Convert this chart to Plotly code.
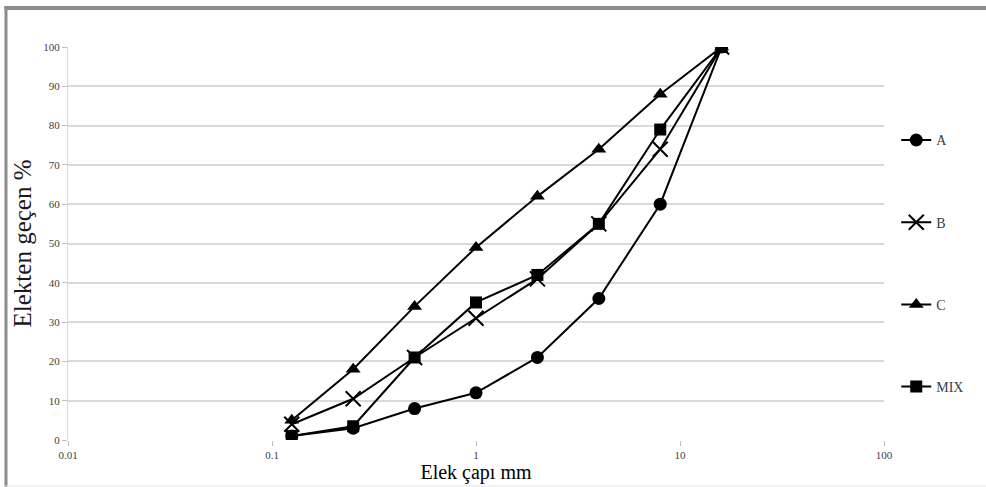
import plotly.graph_objects as go

# Sieve sizes (mm) and percent passing for each aggregate
sieve_mm = [0.125, 0.25, 0.5, 1, 2, 4, 8, 16]
pass_a = [1, 3, 8, 12, 21, 36, 60, 100]
pass_b = [4, 10.5, 21, 31, 41, 55, 74, 100]
pass_c = [5, 18, 34, 49, 62, 74, 88, 100]
pass_mix = [1, 3.5, 21, 35, 42, 55, 79, 100]

series = [
    ("A", pass_a, dict(symbol="circle", size=13)),
    ("B", pass_b, dict(symbol="x-thin", size=15, line=dict(width=2, color="black"))),
    ("C", pass_c, dict(symbol="triangle-up", size=13)),
    ("MIX", pass_mix, dict(symbol="square", size=12)),
]

x_tick_vals = [0.01, 0.1, 1, 10, 100]
x_tick_text = ["0.01", "0.1", "1", "10", "100"]
y_tick_vals = list(range(0, 101, 10))

fig = go.Figure()
for i, (name, vals, mk) in enumerate(series):
    fig.add_trace(go.Scatter(
        x=sieve_mm, y=vals, name=name, mode="lines+markers",
        line=dict(color="black", width=2),
        marker=dict(color="black", **mk),
        legendgroup=f"g{i}",
    ))

serif = "Liberation Serif, Times New Roman, serif"

# Frame around the chart: heavy top and left edges, faint bottom edge
frame = [
    dict(type="line", xref="paper", yref="paper", x0=-0.078, x1=1.13, y0=1.0992, y1=1.0992,
         line=dict(color="#8c8c8c", width=4), layer="below"),
    dict(type="line", xref="paper", yref="paper", x0=-0.0760, x1=-0.0760, y0=1.104, y1=-0.13,
         line=dict(color="#8c8c8c", width=3), layer="below"),
    dict(type="line", xref="paper", yref="paper", x0=-0.078, x1=1.13, y0=-0.117, y1=-0.117,
         line=dict(color="#e6e6e6", width=1), layer="below"),
]

fig.update_layout(
    width=986, height=487,
    margin=dict(l=68, r=102, t=47, b=47, autoexpand=False),
    paper_bgcolor="white", plot_bgcolor="white",
    font=dict(family=serif, color="#404040"),
    showlegend=True,
    legend=dict(
        x=1.015, y=0.803, xanchor="left", yanchor="top",
        font=dict(family=serif, size=14, color="#404040"),
        tracegroupgap=61, itemwidth=30,
        bgcolor="rgba(0,0,0,0)",
    ),
    xaxis=dict(
        type="log", range=[-2, 2],
        tickvals=x_tick_vals, ticktext=x_tick_text,
        ticks="outside", ticklen=5, tickcolor="#bfbfbf",
        showgrid=False, showline=False, zeroline=False,
        tickfont=dict(family=serif, size=11, color="#404040"),
        title=dict(text="Elek çapı mm", font=dict(family=serif, size=20, color="black"), standoff=4),
    ),
    yaxis=dict(
        range=[0, 100], tickvals=y_tick_vals,
        ticks="outside", ticklen=5, tickcolor="#bfbfbf",
        showgrid=True, gridcolor="#d9d9d9", gridwidth=2,
        showline=True, linecolor="#d9d9d9", linewidth=1,
        zeroline=False,
        tickfont=dict(family=serif, size=11, color="#404040"),
        title=dict(text="Elekten geçen %", font=dict(family=serif, size=25, color="#1a1a1a"), standoff=4),
    ),
    shapes=frame,
)

fig.write_html("out.html")
